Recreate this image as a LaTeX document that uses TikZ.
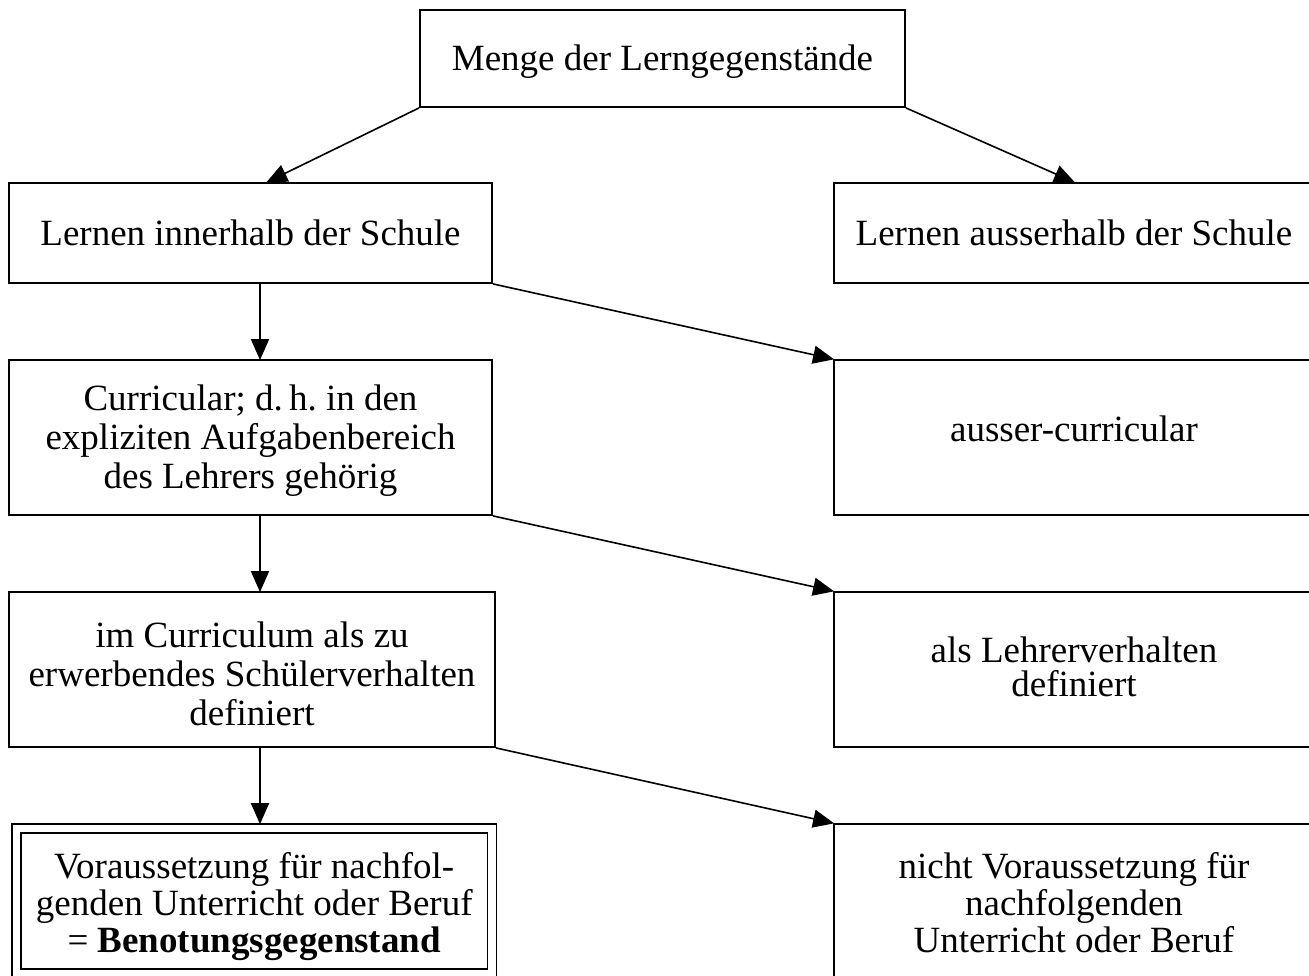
\documentclass[tikz,border=0pt]{standalone}
\usepackage{fontspec}
\setmainfont{Liberation Serif}
\usetikzlibrary{arrows.meta,calc}
\begin{document}
\begin{tikzpicture}[x=1pt,y=-1pt,
  box/.style={draw, line width=1.8pt, inner sep=0pt},
  txt/.style={inner sep=0pt, align=center, font=\fontsize{37}{39}\selectfont},
  arr/.style={line width=1.6pt, -{Triangle[length=21pt,width=18pt]}, shorten >=-1pt}]
\useasboundingbox (0,0) rectangle (1309,975);
\fill[white] (0,0) rectangle (1309,975);
% boxes
\node[box, minimum width=485pt, minimum height=97pt] (top) at (662.5,58.5) {};
\node[box, minimum width=483pt, minimum height=100pt] (L1) at (250.5,233) {};
\node[box, minimum width=480pt, minimum height=100pt] (R1) at (1074,233) {};
\node[box, minimum width=483pt, minimum height=155pt] (L2) at (250.5,437.5) {};
\node[box, minimum width=480pt, minimum height=155pt] (R2) at (1074,437.5) {};
\node[box, minimum width=486pt, minimum height=155pt] (L3) at (252,669.5) {};
\node[box, minimum width=480pt, minimum height=155pt] (R3) at (1074,669.5) {};
\node[box, double, double distance=7.4pt, line width=1.6pt, minimum width=475.5pt, minimum height=145pt] (L4) at (254.25,901) {};
\node[box, minimum width=480pt, minimum height=161pt] (R4) at (1074,904.5) {};
% texts
\node[txt] (topt) at ([yshift=-3pt]top.center) {Menge der Lerngegenstände};
\node[txt] (L1t) at (L1.center) {Lernen innerhalb der Schule};
\node[txt] (R1t) at (R1.center) {Lernen ausserhalb der Schule};
\node[txt] (L2t) at ([yshift=-3pt]L2.center) {Curricular; d.\,h.\ in den\\expliziten Aufgabenbereich\\des Lehrers gehörig};
\node[txt] (R2t) at ([yshift=9pt]R2.center) {ausser-curricular};
\node[txt] (L3t) at ([yshift=-4pt]L3.center) {im Curriculum als zu\\erwerbendes Schülerverhalten\\definiert};
\node[txt, font=\fontsize{37}{34}\selectfont] (R3t) at ([yshift=3pt]R3.center) {als Lehrerverhalten\\definiert};
\node[txt, font=\fontsize{37}{37}\selectfont] (L4t) at ([yshift=-6pt]L4.center) {Voraussetzung für nachfol-\\genden Unterricht oder Beruf\\= \textbf{Benotungsgegenstand}};
\node[txt, font=\fontsize{37}{37}\selectfont] (R4t) at ([yshift=2pt]R4.center) {nicht Voraussetzung für\\nachfolgenden\\Unterricht oder Beruf};
% arrows
\coordinate (vx) at (260,0);
\draw[arr] (top.south west) -- ($(L1.north west)+(259,0)$);
\draw[arr] (top.south east) -- ($(R1.north west)+(241,0)$);
\draw[arr] (L1.south -| vx) -- (L2.north -| vx);
\draw[arr] (L2.south -| vx) -- (L3.north -| vx);
\draw[arr] (L3.south -| vx) -- ($(L4.north -| vx)+(0,-4.5)$);
\draw[arr] (L1.south east) -- (R2.north west);
\draw[arr] (L2.south east) -- (R3.north west);
\draw[arr] (L3.south east) -- (R4.north west);
\end{tikzpicture}
\end{document}
